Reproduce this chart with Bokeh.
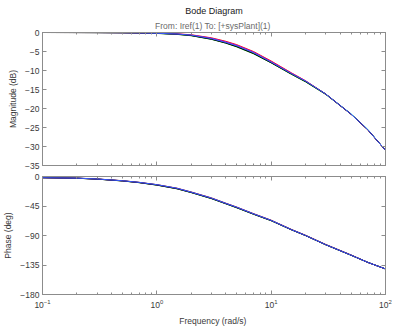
from bokeh.plotting import figure
from bokeh.layouts import column
from bokeh.models import (LogAxis, LinearAxis, FixedTicker, Range1d, Title,
                          LogTickFormatter)
from bokeh.embed import file_html
from bokeh.resources import INLINE

# ---------------- data ----------------
freq = [0.1, 0.2, 0.3, 0.5, 0.7, 1, 1.5, 2, 3, 4, 5, 7, 10, 15, 20, 30, 50, 70, 100]

mag_y = [0, -0.01, -0.02, -0.05, -0.1, -0.2, -0.42, -0.75, -1.65, -2.65, -3.6, -5.4, -7.9, -10.9, -12.9, -16.2, -21.5, -25.6, -31.0]
mag_g = [0, -0.01, -0.03, -0.06, -0.12, -0.25, -0.5, -0.85, -1.8, -2.8, -3.8, -5.6, -8.0, -11.0, -13.0, -16.3, -21.5, -25.6, -31.0]
mag_r = [0, -0.01, -0.02, -0.05, -0.1, -0.18, -0.35, -0.6, -1.4, -2.3, -3.2, -5.0, -7.5, -10.6, -12.7, -16.2, -21.5, -25.6, -31.0]
mag_c = [0, -0.01, -0.02, -0.05, -0.1, -0.2, -0.4, -0.72, -1.6, -2.55, -3.45, -5.25, -7.75, -10.8, -12.8, -16.2, -21.4, -25.5, -31.0]
mag_m = [0, -0.01, -0.02, -0.05, -0.1, -0.19, -0.38, -0.65, -1.5, -2.45, -3.35, -5.15, -7.65, -10.7, -12.75, -16.2, -21.5, -25.6, -31.0]
mag_k = [0, -0.01, -0.02, -0.05, -0.11, -0.22, -0.45, -0.8, -1.75, -2.75, -3.7, -5.5, -7.95, -10.9, -12.9, -16.2, -21.5, -25.6, -31.0]
mag_b = [0, -0.01, -0.02, -0.05, -0.1, -0.2, -0.4, -0.7, -1.6, -2.6, -3.5, -5.3, -7.8, -10.8, -12.8, -16.2, -21.5, -25.6, -31.0]

ph_y = [-1.8, -2.6, -3.9, -6.6, -9.2, -12.8, -18.3, -24.2, -33.3, -41.2, -47.3, -57.2, -67.2, -81.0, -90.0, -104.0, -120.0, -131.0, -141.0]
ph_g = [-1.8, -2.7, -4.0, -6.8, -9.4, -13.2, -18.8, -24.6, -33.8, -41.6, -47.8, -57.6, -67.5, -81.3, -90.2, -104.2, -120.2, -131.0, -141.0]
ph_r = [-1.8, -2.5, -3.7, -6.4, -8.9, -12.4, -17.8, -23.6, -32.6, -40.6, -46.6, -56.6, -66.6, -80.6, -89.6, -103.6, -119.6, -131.0, -141.0]
ph_c = [-1.8, -2.5, -3.8, -6.5, -9.0, -12.5, -18.0, -23.8, -32.8, -40.8, -46.8, -56.8, -66.8, -80.8, -89.8, -103.8, -119.8, -131.0, -141.0]
ph_m = [-1.8, -2.6, -3.9, -6.6, -9.1, -12.7, -18.2, -24.0, -33.0, -41.0, -47.0, -57.0, -67.0, -81.0, -90.0, -104.0, -120.0, -131.0, -141.0]
ph_k = [-1.8, -2.6, -4.0, -6.7, -9.3, -13.0, -18.6, -24.4, -33.5, -41.4, -47.5, -57.4, -67.3, -81.2, -90.1, -104.1, -120.1, -131.0, -141.0]
ph_b = [-1.8, -2.5, -3.8, -6.5, -9.0, -12.5, -18.0, -24.0, -33.0, -41.0, -47.0, -57.0, -67.0, -81.0, -90.0, -104.0, -120.0, -131.0, -141.0]

mag_ticks = [-35, -30, -25, -20, -15, -10, -5, 0]
ph_ticks = [-180, -135, -90, -45, 0]
x_major = [0.1, 1, 10, 100]
x_minor = [0.2, 0.3, 0.4, 0.5, 0.6, 0.7, 0.8, 0.9,
           2, 3, 4, 5, 6, 7, 8, 9,
           20, 30, 40, 50, 60, 70, 80, 90]

colors = ["#bfbf00", "#008000", "#ff0000", "#00bfbf", "#bf00bf", "#000000", "#3a5aff"]
mag_series = [mag_y, mag_g, mag_r, mag_c, mag_m, mag_k, mag_b]
ph_series = [ph_y, ph_g, ph_r, ph_c, ph_m, ph_k, ph_b]

FONT = "Liberation Sans"
FS = "8.5px"
AXC = "#8c8c8c"
TXT = "#3a3a3a"

W = 393


def style_axis(ax, labels=True):
    ax.axis_line_color = AXC
    ax.major_tick_line_color = AXC
    ax.minor_tick_line_color = AXC
    ax.major_tick_in = 4
    ax.major_tick_out = 0
    ax.minor_tick_in = 2
    ax.minor_tick_out = 0
    ax.major_label_text_font = FONT
    ax.major_label_text_font_size = FS if labels else "1px"
    ax.major_label_text_color = TXT
    ax.major_label_text_alpha = 1.0 if labels else 0.0
    ax.major_label_standoff = 3 if labels else 0
    ax.axis_label_text_font = FONT
    ax.axis_label_text_font_size = FS
    ax.axis_label_text_font_style = "normal"
    ax.axis_label_text_color = TXT
    ax.axis_label_standoff = 4


def make_fig(height, yr, yticks, top_border, bottom_border, xlabels):
    p = figure(width=W, height=height, x_axis_type="log",
               x_range=Range1d(0.1, 100), y_range=Range1d(*yr),
               output_backend="svg", toolbar_location=None,
               min_border_left=42, min_border_right=8,
               min_border_top=top_border, min_border_bottom=bottom_border)
    p.grid.visible = False
    p.outline_line_color = AXC
    p.background_fill_color = "white"
    p.border_fill_color = "white"
    bx = p.below[0]
    ly = p.left[0]
    bx.ticker = FixedTicker(ticks=x_major, minor_ticks=x_minor)
    ly.ticker = FixedTicker(ticks=yticks)
    style_axis(bx, labels=xlabels)
    style_axis(ly)
    # top and right tick-only axes
    top = LogAxis(ticker=FixedTicker(ticks=x_major, minor_ticks=x_minor))
    style_axis(top, labels=False)
    p.add_layout(top, "above")
    right = LinearAxis(ticker=FixedTicker(ticks=yticks))
    style_axis(right, labels=False)
    p.add_layout(right, "right")
    return p, bx, ly


# ---------------- magnitude ----------------
p1, bx1, ly1 = make_fig(170, (-35, 0), mag_ticks, 32, 5, False)
ly1.axis_label = "Magnitude (dB)"
for c, m in zip(colors, mag_series):
    p1.line(freq, m, line_color=c, line_width=1)

p1.add_layout(Title(text="From: Iref(1)  To: [+sysPlant](1)", align="center",
                    text_font=FONT, text_font_size=FS, text_font_style="normal",
                    text_color="#6a6a6a", standoff=4, offset=0), "above")
p1.add_layout(Title(text="Bode Diagram", align="center",
                    text_font=FONT, text_font_size="9px", text_font_style="normal",
                    text_color="#202020", standoff=2, offset=0), "above")

# ---------------- phase ----------------
p2, bx2, ly2 = make_fig(158, (-180, 0), ph_ticks, 6, 32, True)
bx2.formatter = LogTickFormatter()
bx2.major_label_standoff = 4
bx2.axis_label = "Frequency  (rad/s)"
bx2.axis_label_standoff = 5
ly2.axis_label = "Phase (deg)"
for c, ph in zip(colors, ph_series):
    p2.line(freq, ph, line_color=c, line_width=1)

layout = column(p1, p2, spacing=0)
open("out.html", "w").write(file_html(layout, INLINE))
